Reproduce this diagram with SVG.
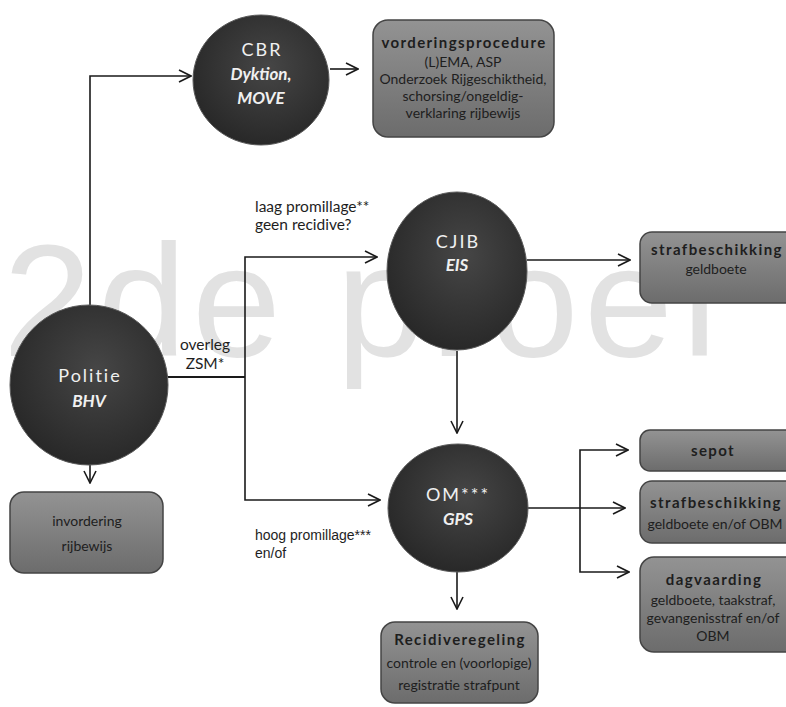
<svg xmlns="http://www.w3.org/2000/svg" width="786" height="707" viewBox="0 0 786 707">
<defs>
<radialGradient id="gCirc" cx="0.55" cy="0.4" r="0.65">
<stop offset="0" stop-color="#464646"/>
<stop offset="1" stop-color="#262626"/>
</radialGradient>
<linearGradient id="gBox" x1="0" y1="0" x2="0" y2="1">
<stop offset="0" stop-color="#939393"/>
<stop offset="1" stop-color="#6c6c6c"/>
</linearGradient>
<marker id="arr" viewBox="0 0 14 14" refX="13" refY="7" markerWidth="14" markerHeight="14" markerUnits="userSpaceOnUse" orient="auto">
<path d="M1,1 L13,7 L1,13" fill="none" stroke="#1a1a1a" stroke-width="1.6"/>
</marker>
<style>
.c{fill:url(#gCirc);stroke:#5a5a5a;stroke-width:1}
.b{fill:url(#gBox);stroke:#444;stroke-width:1.5}
.ct{font-family:Lato,"Open Sans","Liberation Sans",sans-serif;fill:#f0f0f0;text-anchor:middle;font-size:18px;letter-spacing:2px}
.ci{font-style:italic;font-weight:bold;font-size:17px;letter-spacing:0}
.bt{font-family:Lato,"Open Sans","Liberation Sans",sans-serif;fill:#1e1e1e;text-anchor:middle;font-size:15px;font-weight:bold;letter-spacing:1.4px}
.bs{font-size:14px;font-weight:normal;letter-spacing:0}
.ln{fill:none;stroke:#1a1a1a;stroke-width:1.6}
.lbl{font-family:Lato,"Open Sans","Liberation Sans",sans-serif;font-size:15.5px;fill:#1e1e1e}
.lbl2{font-family:"Liberation Sans",Arial,sans-serif;font-size:14px;fill:#1e1e1e}
.wm{font-family:"Liberation Sans",Arial,sans-serif;font-size:160px;fill:#e2e2e2}
</style>
</defs>
<rect width="786" height="707" fill="#ffffff"/>
<text class="wm" x="3" y="356" textLength="720" lengthAdjust="spacing">2de proef</text>

<g id="connectors">
<path class="ln" d="M90,305 V76 H191" marker-end="url(#arr)"/>
<path class="ln" d="M330,69 H358" marker-end="url(#arr)"/>
<path class="ln" d="M168,377 H245" style="stroke-width:2"/>
<path class="ln" d="M245,377 V257 H377" marker-end="url(#arr)"/>
<path class="ln" d="M245,377 V500 H380" marker-end="url(#arr)"/>
<path class="ln" d="M90,465 V483" marker-end="url(#arr)"/>
<path class="ln" d="M527,260 H630" marker-end="url(#arr)"/>
<path class="ln" d="M457,351 V433" marker-end="url(#arr)"/>
<path class="ln" d="M527,508 H580"/>
<path class="ln" d="M580,508 V450 H628" marker-end="url(#arr)"/>
<path class="ln" d="M580,508 H625" marker-end="url(#arr)"/>
<path class="ln" d="M580,508 V572 H629" marker-end="url(#arr)"/>
<path class="ln" d="M457,572 V609" marker-end="url(#arr)"/>
</g>

<g id="cbr">
<ellipse class="c" cx="261" cy="80" rx="68" ry="65"/>
<text class="ct" x="262" y="56">CBR</text>
<text class="ct ci" x="261" y="80">Dyktion,</text>
<text class="ct ci" x="261" y="104">MOVE</text>
</g>

<g id="vorderingsprocedure">
<rect class="b" x="373" y="20" width="181" height="117" rx="15"/>
<text class="bt" x="464" y="48">vorderingsprocedure</text>
<text class="bt bs" x="463" y="67">(L)EMA, ASP</text>
<text class="bt bs" x="463" y="84">Onderzoek Rijgeschiktheid,</text>
<text class="bt bs" x="463" y="101">schorsing/ongeldig-</text>
<text class="bt bs" x="463" y="118">verklaring rijbewijs</text>
</g>

<g id="politie">
<ellipse class="c" cx="89" cy="385" rx="79" ry="80"/>
<text class="ct" x="90" y="382">Politie</text>
<text class="ct ci" x="89" y="407">BHV</text>
</g>

<g id="invordering">
<rect class="b" x="10" y="492" width="153" height="81" rx="14"/>
<text class="bt bs" x="87" y="526">invordering</text>
<text class="bt bs" x="87" y="551">rijbewijs</text>
</g>

<g id="cjib">
<ellipse class="c" cx="457" cy="271" rx="70" ry="79"/>
<text class="ct" x="458" y="248">CJIB</text>
<text class="ct ci" x="457" y="271">EIS</text>
</g>

<g id="strafbeschikking1">
<rect class="b" x="640" y="232" width="160" height="71" rx="12"/>
<text class="bt" x="717" y="255">strafbeschikking</text>
<text class="bt bs" x="716" y="274">geldboete</text>
</g>

<g id="om">
<ellipse class="c" cx="458" cy="508" rx="70" ry="64"/>
<text class="ct" x="458" y="501">OM***</text>
<text class="ct ci" x="458" y="525">GPS</text>
</g>

<g id="sepot">
<rect class="b" x="640" y="430" width="160" height="41" rx="10"/>
<text class="bt" x="713" y="456">sepot</text>
</g>

<g id="strafbeschikking2">
<rect class="b" x="640" y="481" width="160" height="62" rx="12"/>
<text class="bt" x="716" y="508">strafbeschikking</text>
<text class="bt bs" x="715" y="529">geldboete en/of OBM</text>
</g>

<g id="dagvaarding">
<rect class="b" x="640" y="557" width="160" height="95" rx="14"/>
<text class="bt" x="714" y="585">dagvaarding</text>
<text class="bt bs" x="713" y="605">geldboete, taakstraf,</text>
<text class="bt bs" x="713" y="623">gevangenisstraf en/of</text>
<text class="bt bs" x="713" y="641">OBM</text>
</g>

<g id="recidiveregeling">
<rect class="b" x="381" y="622" width="157" height="81" rx="14"/>
<text class="bt" x="460" y="645">Recidiveregeling</text>
<text class="bt bs" x="459" y="668">controle en (voorlopige)</text>
<text class="bt bs" x="459" y="690">registratie strafpunt</text>
</g>

<g id="labels">
<text class="lbl" x="205" y="350" text-anchor="middle">overleg</text>
<text class="lbl" x="205" y="369" text-anchor="middle">ZSM*</text>
<text class="lbl" x="255" y="212">laag promillage**</text>
<text class="lbl" x="255" y="230">geen recidive?</text>
<text class="lbl2" x="255" y="540">hoog promillage***</text>
<text class="lbl2" x="255" y="558">en/of</text>
</g>
</svg>
